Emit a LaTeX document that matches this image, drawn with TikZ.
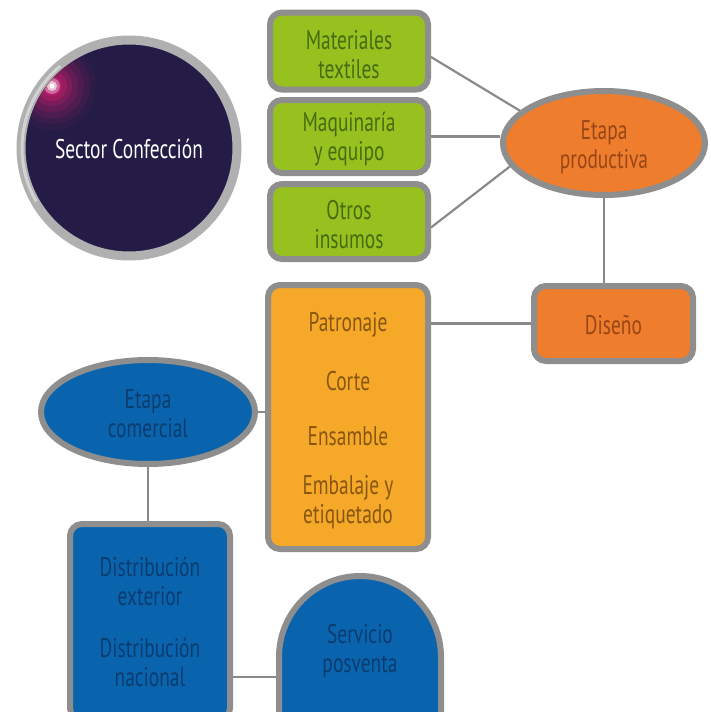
\documentclass[tikz,border=0pt]{standalone}
\usepackage{fontspec}
\setmainfont{PT Sans}[FakeStretch=0.72]
\usetikzlibrary{shapes.geometric,backgrounds}
\definecolor{navy}{HTML}{241C46}
\definecolor{leaf}{HTML}{96C11F}
\definecolor{leaftext}{HTML}{4A6A12}
\definecolor{tang}{HTML}{EE7D2E}
\definecolor{tangtext}{HTML}{984616}
\definecolor{amber}{HTML}{F6A828}
\definecolor{ambertext}{HTML}{875712}
\definecolor{sea}{HTML}{0A64AD}
\definecolor{seatext}{HTML}{0B3C70}
\definecolor{rim}{HTML}{8E8E8E}
\definecolor{wire}{HTML}{8A8A8A}
\tikzset{
  x=1pt, y=-1pt,
  lbl/.style={align=center, font=\fontsize{27}{29}\selectfont, inner sep=0pt},
  card/.style={rectangle, rounded corners=12pt, draw=rim, line width=6pt, inner sep=0pt},
  oval/.style={ellipse, draw=rim, line width=6pt, inner sep=0pt},
  wirestyle/.style={draw=wire, line width=2.2pt},
}
\begin{document}
\begin{tikzpicture}
\useasboundingbox (0,0) rectangle (710,712);

% header disc with glare
\node[circle, fill=navy, draw=rim!70, line width=9pt, minimum size=216pt] (sector) at (129,148) {};
\draw[white, opacity=0.45, line width=3pt] (129,148) ++(150:107) arc[start angle=150, end angle=230, radius=107];
\begin{scope}
  \clip (129,148) circle[radius=103];
  \foreach \r/\o in {44/0.06, 38/0.08, 32/0.12, 26/0.16, 20/0.22, 15/0.3, 10/0.38}
    \fill[magenta!60!purple, opacity=\o] (52,86) circle[radius=\r];
  \fill[white, opacity=0.35] (52,86) circle[radius=8];
  \fill[white, opacity=0.6] (52,86) circle[radius=5];
  \fill[white, opacity=0.95] (52,86) circle[radius=2.5];
\end{scope}
\node[lbl, text=white] (sectorlbl) at (129,149) {Sector Confección};

% inputs
\node[card, fill=leaf, minimum width=158pt, minimum height=77pt] (mat) at (349,51) {};
\node[card, fill=leaf, minimum width=158pt, minimum height=73pt] (maq) at (349,136.5) {};
\node[card, fill=leaf, minimum width=158pt, minimum height=75pt] (otr) at (349,221.5) {};
\node[lbl, text=leaftext] (matlbl) at (349,55) {Materiales\\textiles};
\node[lbl, text=leaftext] (maqlbl) at (349,139) {Maquinaría\\y equipo};
\node[lbl, text=leaftext] (otrlbl) at (349,225) {Otros\\insumos};

% production stage
\node[oval, fill=tang, minimum width=202pt, minimum height=104pt] (prod) at (604,143) {};
\node[lbl, text=tangtext] (prodlbl) at (604,147) {Etapa\\productiva};
\node[card, fill=tang, minimum width=159pt, minimum height=75pt] (dis) at (613.5,323.5) {};
\node[lbl, text=tangtext] (dislbl) at (613.5,325) {Diseño};

% manufacturing steps
\node[card, fill=amber, minimum width=160pt, minimum height=264pt] (pat) at (348,417) {};
\node[lbl, text=ambertext] (t1) at (348,325) {Patronaje};
\node[lbl, text=ambertext] (t2) at (348,381) {Corte};
\node[lbl, text=ambertext] (t3) at (348,436) {Ensamble};
\node[lbl, text=ambertext] (t4) at (348,502) {Embalaje y\\etiquetado};

% commercial stage
\node[oval, fill=sea, minimum width=214pt, minimum height=104pt] (com) at (148,412) {};
\node[lbl, text=seatext] (comlbl) at (148,414) {Etapa\\comercial};
\node[card, fill=sea, minimum width=160pt, minimum height=196pt] (dist) at (150,622) {};
\node[lbl, text=seatext] (d1) at (150,581) {Distribución\\exterior};
\node[lbl, text=seatext] (d2) at (150,662) {Distribución\\nacional};

% after-sales arch
\coordinate (archL) at (279,677);
\filldraw[fill=sea, draw=rim, line width=6pt] (279,720) -- (279,657) arc[start angle=180, end angle=360, radius=81] -- (441,720);
\node[lbl, text=seatext] (serv) at (360,651) {Servicio\\posventa};

% connectors
\begin{scope}[on background layer]
  \draw[wirestyle] ([yshift=-6pt]mat.east) -- (prod.159);
  \draw[wirestyle] (maq.east) -- (prod.west |- maq.east);
  \draw[wirestyle] ([yshift=-6pt]otr.east) -- (prod.194);
  \draw[wirestyle] (prod.south) -- (prod.south |- dis.north);
  \draw[wirestyle] (dis.west) -- (dis.west -| pat.east);
  \draw[wirestyle] (com.east) -- (com.east -| pat.west);
  \draw[wirestyle] (com.south) -- (com.south |- dist.north);
  \draw[wirestyle] (dist.east |- archL) -- (archL);
\end{scope}
\end{tikzpicture}
\end{document}
